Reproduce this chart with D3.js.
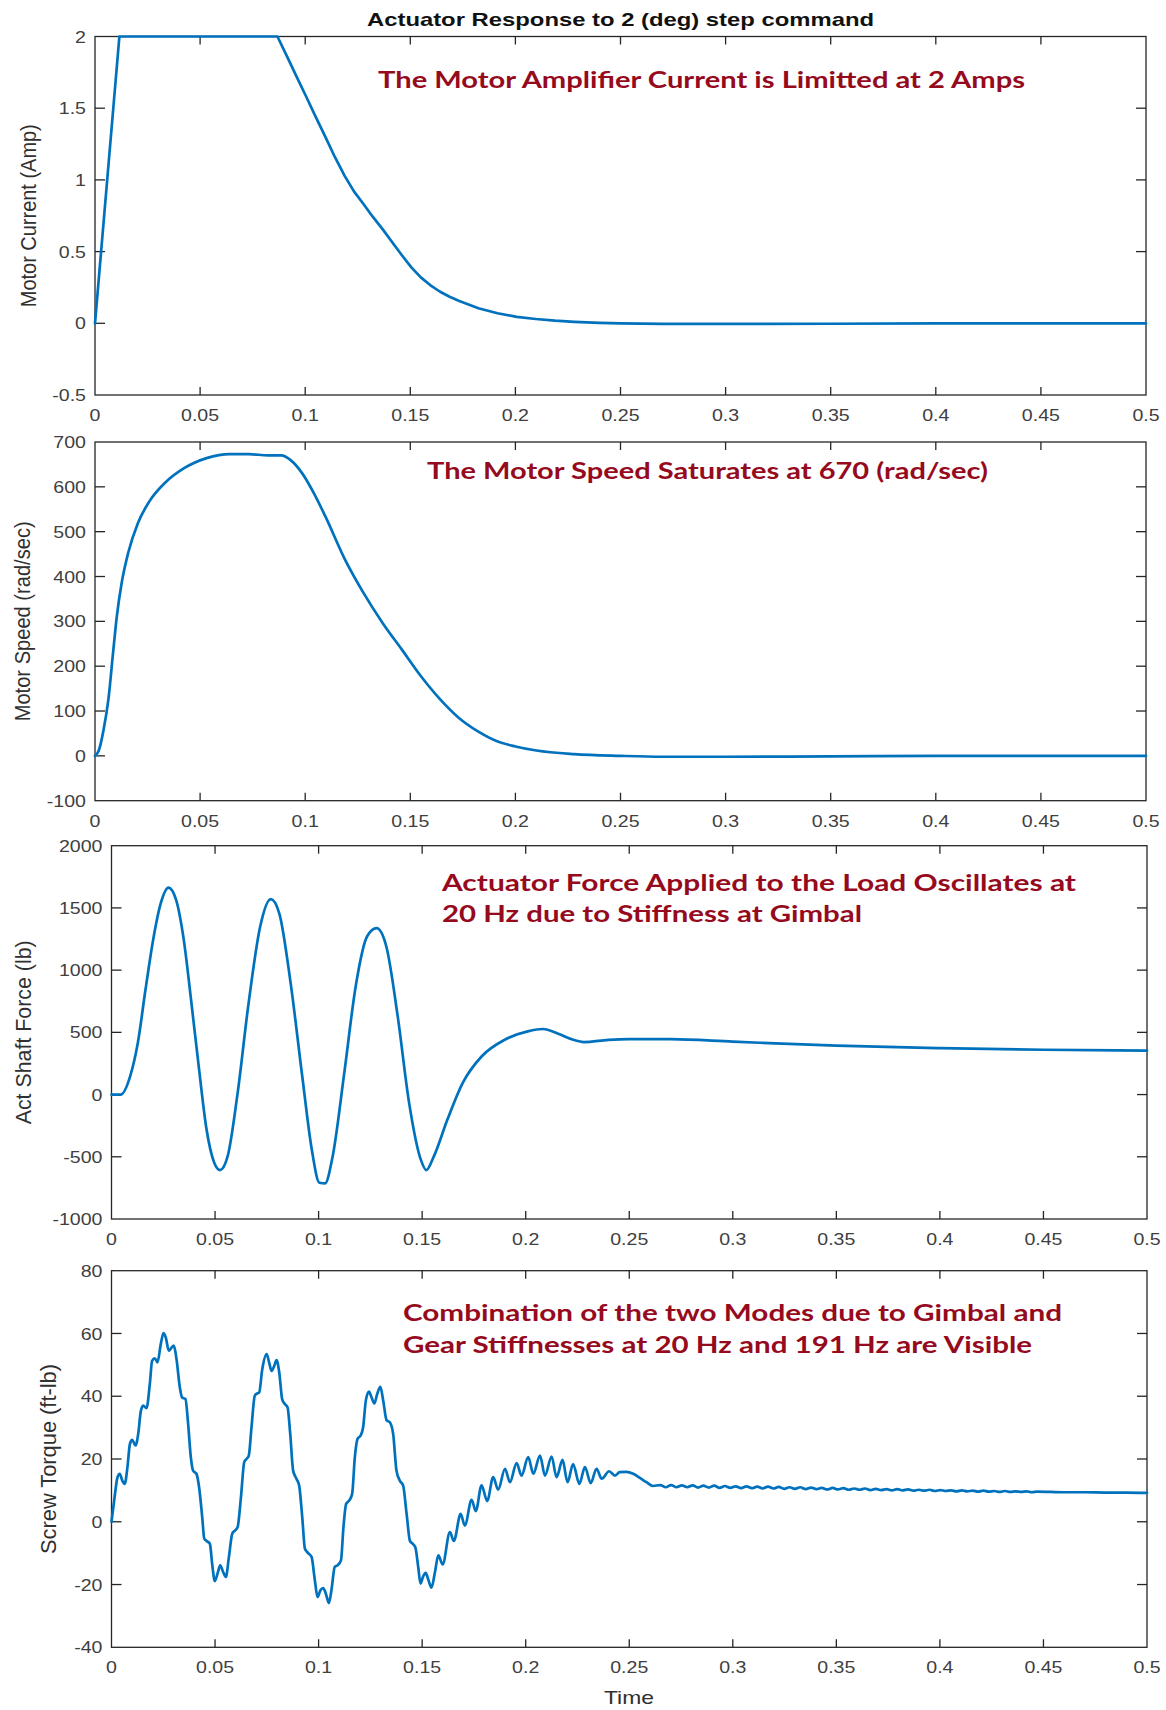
<!DOCTYPE html>
<html><head><meta charset="utf-8">
<script src="https://cdn.jsdelivr.net/npm/d3@7"></script>
<style>body{margin:0;background:#fff}</style>
</head><body>
<svg id="chart" width="1166" height="1710" xmlns="http://www.w3.org/2000/svg"></svg>
<script>
// ---------------- DATA ----------------
const titleText = "Actuator Response to 2 (deg) step command";
const xLabelText = "Time";
const xTicks = [0,0.05,0.1,0.15,0.2,0.25,0.3,0.35,0.4,0.45,0.5];
const xTickLabels = ["0","0.05","0.1","0.15","0.2","0.25","0.3","0.35","0.4","0.45","0.5"];

// Panel 1: Motor current (Amp)
const currentT = [0,0.0116,0.0868,0.0914,0.0959,0.1005,0.1050,0.1096,0.1141,0.1187,0.1232,0.1278,0.1323,0.1369,0.1414,0.1460,0.1505,0.1550,0.1596,0.1642,0.1687,0.1733,0.1824,0.1915,0.2006,0.2097,0.2188,0.2280,0.2400,0.2500,0.2700,0.3000,0.3500,0.4000,0.4500,0.5000];
const currentV = [0,2.0,2.0,1.86,1.72,1.58,1.44,1.30,1.16,1.03,0.92,0.83,0.74,0.655,0.565,0.475,0.39,0.32,0.265,0.22,0.185,0.155,0.105,0.07,0.045,0.03,0.018,0.01,0.003,0,-0.004,-0.004,-0.003,-0.001,0,0];
const yTicks1 = [-0.5,0,0.5,1,1.5,2];
const yTickLabels1 = ["-0.5","0","0.5","1","1.5","2"];

// Panel 2: Motor speed (rad/sec)
const speedT = [0,0.0018,0.0040,0.0064,0.0086,0.0104,0.0127,0.0158,0.0204,0.0258,0.0331,0.0422,0.0531,0.0641,0.0732,0.0823,0.0886,0.0932,0.0986,0.1041,0.1096,0.1187,0.1278,0.1369,0.1460,0.1550,0.1640,0.1730,0.1820,0.1910,0.2000,0.2100,0.2280,0.2500,0.2700,0.3000,0.3500,0.4000,0.5000];
const speedV = [0,12,56,127,230,312,386,453,519,567,608,641,664,673,673,670,670,659,630,586,534,440,363,296,237,178,127,85,55,33,21,12,4,0,-2,-2,-1,0,0];
const yTicks2 = [-100,0,100,200,300,400,500,600,700];
const yTickLabels2 = ["-100","0","100","200","300","400","500","600","700"];

// Panel 3: Actuator shaft force (lb)
const forceT = [0,0.0044,0.0090,0.0127,0.0164,0.0201,0.0238,0.0275,0.0312,0.0349,0.0386,0.0423,0.0459,0.0496,0.0524,0.0561,0.0607,0.0662,0.0718,0.0769,0.0810,0.0865,0.0921,0.0967,0.1004,0.1031,0.1068,0.1124,0.1179,0.1234,0.1280,0.1327,0.1382,0.1437,0.1493,0.1520,0.1557,0.1622,0.1696,0.1788,0.1899,0.2010,0.2083,0.2157,0.2230,0.2280,0.2400,0.2500,0.2700,0.3000,0.3500,0.4000,0.4500,0.5000];
const forceV = [0,0,147,414,842,1243,1538,1663,1564,1243,735,200,-281,-548,-607,-495,-13,735,1350,1570,1457,896,147,-441,-709,-714,-495,174,869,1270,1337,1190,628,-67,-521,-607,-495,-201,94,308,441,508,527,489,440,422,440,446,445,425,393,373,360,353];
const yTicks3 = [-1000,-500,0,500,1000,1500,2000];
const yTickLabels3 = ["-1000","-500","0","500","1000","1500","2000"];

// Panel 4: Screw torque (ft-lb)
const torqueT = [0,0.0013,0.0029,0.0040,0.0052,0.0064,0.0077,0.0089,0.0100,0.0116,0.0129,0.0142,0.0153,0.0169,0.0185,0.0196,0.0209,0.0222,0.0238,0.0251,0.0262,0.0277,0.0290,0.0301,0.0314,0.0330,0.0341,0.0357,0.0370,0.0383,0.0394,0.0410,0.0423,0.0438,0.0448,0.0459,0.0475,0.0486,0.0499,0.0512,0.0525,0.0539,0.0552,0.0567,0.0583,0.0596,0.0609,0.0625,0.0641,0.0652,0.0663,0.0676,0.0692,0.0704,0.0713,0.0728,0.0749,0.0761,0.0773,0.0786,0.0797,0.0810,0.0824,0.0837,0.0850,0.0863,0.0877,0.0893,0.0906,0.0921,0.0934,0.0950,0.0966,0.0982,0.0995,0.1009,0.1022,0.1035,0.1050,0.1062,0.1078,0.1091,0.1108,0.1120,0.1133,0.1148,0.1162,0.1175,0.1188,0.1203,0.1215,0.1228,0.1243,0.1256,0.1269,0.1283,0.1298,0.1312,0.1328,0.1344,0.1360,0.1376,0.1392,0.1408,0.1425,0.1441,0.1454,0.1467,0.1481,0.1492,0.1505,0.1517,0.1531,0.1545,0.1562,0.1578,0.1599,0.1634,0.1653,0.1686,0.1706,0.1739,0.1759,0.1787,0.1814,0.1843,0.1867,0.1900,0.1924,0.1956,0.1980,0.2012,0.2037,0.2069,0.2093,0.2125,0.2149,0.2178,0.2202,0.2229,0.2259,0.2286,0.2314,0.2342,0.2367,0.2403,0.2431,0.2454,0.2486,0.2519,0.2551,0.2583,0.2615,
0.2650,0.2676,0.2702,0.2728,0.2754,0.2780,0.2806,0.2832,0.2858,0.2884,0.2910,0.2936,0.2962,0.2988,0.3014,0.3040,0.3066,0.3092,0.3118,0.3144,0.3170,0.3196,0.3222,0.3248,0.3274,0.3300,0.3326,0.3352,0.3378,0.3404,0.3430,0.3456,0.3482,0.3508,0.3534,0.3560,0.3586,0.3612,0.3638,0.3664,0.3690,0.3716,0.3742,0.3768,0.3794,0.3820,0.3846,0.3872,0.3898,0.3924,0.3950,0.3976,0.4002,0.4028,0.4054,0.4080,0.4106,0.4132,0.4158,0.4184,0.4210,0.4236,0.4262,0.4288,0.4314,0.4340,0.4366,0.4392,0.4418,0.4444,0.4470,0.4600,0.4700,0.4800,0.4900,0.5000];
const torqueV = [0,6.8,14.2,15.3,13.1,12.1,17.4,24.8,26.1,24.3,28.0,35.4,37.0,36.2,43.9,51.3,52.1,50.8,56.6,60.1,58.7,54.5,55.5,56.1,51.8,42.8,39.6,39.1,31.2,20.6,16.3,15.3,11.0,1.5,-5.4,-6.1,-7.0,-13.4,-18.9,-16.5,-13.9,-16.0,-17.6,-11.2,-3.8,-2.8,-1.7,7.8,19.0,20.0,21.1,30.1,40.2,40.9,41.2,48.6,53.4,50.8,48.1,49.7,51.5,47.6,39.1,37.5,36.5,28.0,16.3,13.7,11.6,1.5,-8.6,-10.0,-11.2,-18.7,-24.0,-21.8,-21.1,-22.9,-25.9,-21.8,-14.4,-13.9,-12.3,-1.7,5.7,6.8,8.9,20.6,26.4,27.5,30.1,38.6,41.5,39.6,37.7,40.7,43.0,38.6,32.4,31.7,28.0,16.3,13.1,11.6,2.5,-6.1,-7.0,-8.1,-14.4,-19.7,-17.4,-16.3,-18.7,-21.0,-16.0,-10.7,-13.6,-3.3,-6.1,2.5,-1.2,7.0,3.4,11.6,6.6,14.2,10.2,16.9,12.6,18.7,14.7,20.6,15.3,21.1,14.7,20.8,14.2,19.7,12.6,18.4,12.1,17.4,12.3,16.9,13.7,16.1,14.7,15.8,15.9,15.3,14.0,12.6,11.4,
11.7,11.0,11.7,11.0,11.6,11.0,11.6,10.9,11.5,10.9,11.5,10.8,11.4,10.8,11.3,10.7,11.3,10.7,11.2,10.6,11.2,10.6,11.1,10.5,11.0,10.5,11.0,10.4,10.9,10.4,10.8,10.3,10.8,10.3,10.7,10.2,10.6,10.2,10.6,10.1,10.5,10.1,10.4,10.0,10.4,10.0,10.3,9.9,10.2,9.9,10.2,9.8,10.1,9.8,10.0,9.7,10.0,9.7,9.9,9.6,9.9,9.6,9.8,9.5,9.8,9.5,9.7,9.5,9.7,9.4,9.6,9.4,9.4,9.3,9.3,9.2];
const yTicks4 = [-40,-20,0,20,40,60,80];
const yTickLabels4 = ["-40","-20","0","20","40","60","80"];

const yLabels = ["Motor Current (Amp)","Motor Speed (rad/sec)","Act Shaft Force (lb)","Screw Torque (ft-lb)"];
const notes1 = ["The Motor Amplifier Current is Limitted at 2 Amps"];
const notes2 = ["The Motor Speed Saturates at 670 (rad/sec)"];
const notes3 = ["Actuator Force Applied to the Load Oscillates at","20 Hz due to Stiffness at Gimbal"];
const notes4 = ["Combination of the two Modes due to Gimbal and","Gear Stiffnesses at 20 Hz and 191 Hz are Visible"];

// ---------------- LAYOUT / STYLE ----------------
const LINE = "#0072BD", AXIS = "#262626", TICKTXT = "#404040", NOTE = "#960a1e";
const panels = [
  {top:36.5, bottom:395, left:95, right:1146, dom:[-0.5,2], yt:yTicks1, ytl:yTickLabels1, t:currentT, v:currentV, curve:d3.curveLinear,
   yl:yLabels[0], ylx:28, yllen:183, notes:notes1, nx:378, ny:[87.5], nw:[647]},
  {top:442, bottom:800.7, left:95, right:1146, dom:[-100,700], yt:yTicks2, ytl:yTickLabels2, t:speedT, v:speedV, curve:d3.curveMonotoneX,
   yl:yLabels[1], ylx:22, yllen:200, notes:notes2, nx:427, ny:[478.5], nw:[561]},
  {top:845.7, bottom:1219, left:111.5, right:1147, dom:[-1000,2000], yt:yTicks3, ytl:yTickLabels3, t:forceT, v:forceV, curve:d3.curveMonotoneX,
   yl:yLabels[2], ylx:23, yllen:184, notes:notes3, nx:442, ny:[890.5,921.5], nw:[634,420]},
  {top:1270.7, bottom:1647.3, left:111.5, right:1147, dom:[-40,80], yt:yTicks4, ytl:yTickLabels4, t:torqueT, v:torqueV, curve:d3.curveMonotoneX,
   yl:yLabels[3], ylx:48, yllen:190, notes:notes4, nx:403, ny:[1321,1353], nw:[659,629]}
];

const svg = d3.select("#chart");
const FONT = "'Liberation Sans', Arial, Helvetica, sans-serif";
function stretch(sel,k){ sel.each(function(){ const w=this.getComputedTextLength(); this.setAttribute("textLength", (w*k).toFixed(2)); this.setAttribute("lengthAdjust","spacingAndGlyphs"); }); }

panels.forEach(p => {
  const x = d3.scaleLinear().domain([0,0.5]).range([p.left,p.right]);
  const y = d3.scaleLinear().domain(p.dom).range([p.bottom,p.top]);
  const g = svg.append("g");

  // frame
  g.append("rect").attr("x",p.left).attr("y",p.top).attr("width",p.right-p.left).attr("height",p.bottom-p.top)
    .attr("fill","none").attr("stroke",AXIS).attr("stroke-width",1.3);

  // x ticks (bottom & top, inward)
  xTicks.forEach((t,i) => {
    if (i>0 && i<xTicks.length-1) {
      g.append("line").attr("x1",x(t)).attr("x2",x(t)).attr("y1",p.bottom).attr("y2",p.bottom-8).attr("stroke",AXIS).attr("stroke-width",1.3);
      g.append("line").attr("x1",x(t)).attr("x2",x(t)).attr("y1",p.top).attr("y2",p.top+8).attr("stroke",AXIS).attr("stroke-width",1.3);
    }
    g.append("text").attr("class","tk").attr("x",x(t)).attr("y",p.bottom+26).attr("text-anchor","middle")
      .attr("font-family",FONT).attr("font-size",17).attr("fill",TICKTXT).text(xTickLabels[i]);
  });
  // y ticks
  p.yt.forEach((v,i) => {
    if (i>0 && i<p.yt.length-1) {
      g.append("line").attr("x1",p.left).attr("x2",p.left+10).attr("y1",y(v)).attr("y2",y(v)).attr("stroke",AXIS).attr("stroke-width",1.3);
      g.append("line").attr("x1",p.right).attr("x2",p.right-10).attr("y1",y(v)).attr("y2",y(v)).attr("stroke",AXIS).attr("stroke-width",1.3);
    }
    g.append("text").attr("class","tk").attr("x",p.left-9).attr("y",y(v)).attr("dy","0.36em").attr("text-anchor","end")
      .attr("font-family",FONT).attr("font-size",17).attr("fill",TICKTXT).text(p.ytl[i]);
  });

  // y label (slightly widened like the reference)
  g.append("text").attr("transform",`translate(${p.ylx},${(p.top+p.bottom)/2}) scale(1.18,1) rotate(-90)`)
    .attr("text-anchor","middle").attr("dy","0.35em").attr("font-family",FONT).attr("font-size",19).attr("fill","#303030")
    .attr("textLength",p.yllen).attr("lengthAdjust","spacingAndGlyphs").text(p.yl);

  // data line
  const data = p.t.map((t,i)=>[t,p.v[i]]);
  g.append("path").datum(data).attr("fill","none").attr("stroke",LINE).attr("stroke-width",2.7)
    .attr("stroke-linejoin","round").attr("stroke-linecap","round")
    .attr("d", d3.line().x(d=>x(d[0])).y(d=>y(d[1])).curve(p.curve));

  // annotations
  p.notes.forEach((s,i) => {
    g.append("text").attr("x",p.nx).attr("y",p.ny[i]).attr("font-family","Lato, 'Open Sans', sans-serif")
      .attr("font-weight","bold").attr("font-size",22).attr("fill",NOTE)
      .attr("textLength",p.nw[i]).attr("lengthAdjust","spacingAndGlyphs").text(s);
  });
});

stretch(svg.selectAll("text.tk"), 1.15);

// title
svg.append("text").attr("x",620.5).attr("y",26).attr("text-anchor","middle").attr("font-family",FONT)
  .attr("font-weight","bold").attr("font-size",18.5).attr("fill","#111").attr("textLength",507)
  .attr("lengthAdjust","spacingAndGlyphs").text(titleText);
// x label
svg.append("text").attr("x",629).attr("y",1704).attr("text-anchor","middle").attr("font-family",FONT)
  .attr("font-size",19).attr("fill","#303030").attr("textLength",50).attr("lengthAdjust","spacingAndGlyphs").text(xLabelText);
</script>
</body></html>
